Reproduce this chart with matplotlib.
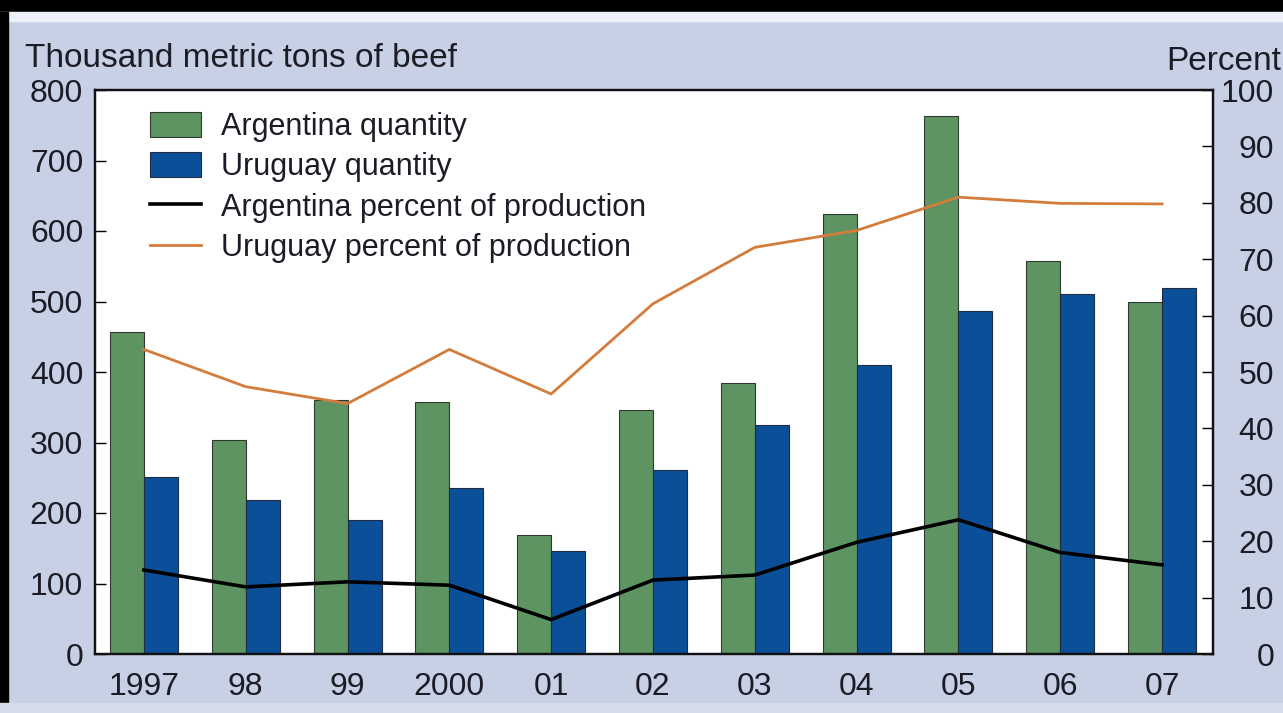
import numpy as np
import matplotlib
matplotlib.use('Agg')
import matplotlib.pyplot as plt
from matplotlib.patches import Rectangle

plt.rcParams['font.family'] = ['Liberation Sans', 'DejaVu Sans']

# data
years = ['1997', '98', '99', '2000', '01', '02', '03', '04', '05', '06', '07']
argentina_qty = [457, 304, 360, 358, 169, 346, 385, 624, 763, 557, 500]
uruguay_qty = [251, 218, 190, 236, 146, 261, 325, 410, 487, 510, 519]
argentina_pct = [14.9, 11.9, 12.8, 12.2, 6.1, 13.1, 14.0, 19.8, 23.8, 18.0, 15.8]
uruguay_pct = [54.0, 47.4, 44.4, 54.0, 46.1, 62.1, 72.1, 75.1, 81.0, 79.9, 79.8]

green = '#5e9462'
blue = '#0b4f98'
orange = '#d47c3c'
panel = '#c7d0e5'
text_col = '#1c1c26'

W, H = 1283, 713
fig = plt.figure(figsize=(W / 100, H / 100), dpi=100)
fig.patch.set_facecolor(panel)

# frame bits around the panel
fig.add_artist(Rectangle((0, 1 - 12 / H), 1, 12 / H, transform=fig.transFigure,
                         color='black', zorder=0))
fig.add_artist(Rectangle((0, 1 - 21 / H), 1, 9 / H, transform=fig.transFigure,
                         color='#eef1f7', zorder=0))
fig.add_artist(Rectangle((0, 0), 8 / W, 1 - 12 / H, transform=fig.transFigure,
                         color='black', zorder=0))
fig.add_artist(Rectangle((0, 0), 1, 10 / H, transform=fig.transFigure,
                         color='#d5dbeb', zorder=0))

ax = fig.add_axes([95 / W, 59 / H, 1118 / W, 564 / H])
ax.set_facecolor('white')

x = np.arange(len(years))
w = 0.334
b1 = ax.bar(x - w / 2, argentina_qty, w, color=green, edgecolor='#2e3a30',
            linewidth=0.8, label='Argentina quantity')
b2 = ax.bar(x + w / 2, uruguay_qty, w, color=blue, edgecolor='#1f2b40',
            linewidth=0.8, label='Uruguay quantity')
ax.set_xlim(-0.48, 10.5)
ax.set_ylim(0, 800)
ax.set_yticks(range(0, 801, 100))
ax.set_xticks(x)
ax.set_xticklabels(years)
ax.tick_params(axis='x', length=0, pad=13, labelsize=23, labelcolor=text_col)
ax.tick_params(axis='y', direction='in', length=8, width=1, pad=8.5,
               labelsize=23, labelcolor=text_col)

ax2 = ax.twinx()
l1, = ax2.plot(x, argentina_pct, color='black', linewidth=2.6,
               label='Argentina percent of production')
l2, = ax2.plot(x, uruguay_pct, color=orange, linewidth=2.0,
               label='Uruguay percent of production')
ax2.set_ylim(0, 100)
ax2.set_yticks(range(0, 101, 10))
ax2.tick_params(axis='y', direction='in', length=8, width=1, pad=44,
                labelsize=23, labelcolor=text_col)
for lab in ax2.get_yticklabels():
    lab.set_horizontalalignment('right')

for a in (ax, ax2):
    for s in a.spines.values():
        s.set_linewidth(1.6)
        s.set_color('#111111')

leg = ax2.legend(handles=[b1, b2, l1, l2], loc='upper left',
                 bbox_to_anchor=(0.049, 0.961), frameon=False, fontsize=22,
                 borderpad=0, borderaxespad=0, handlelength=1.67,
                 handleheight=0.88, handletextpad=0.65, labelspacing=0.34)
for t in leg.get_texts():
    t.set_color(text_col)

fig.text(25 / W, 1 - 67 / H, 'Thousand metric tons of beef', fontsize=24,
         ha='left', va='baseline', color=text_col)
fig.text(1166 / W, 1 - 70 / H, 'Percent', fontsize=24, ha='left',
         va='baseline', color=text_col)

fig.savefig('out.png', dpi=100, facecolor=fig.get_facecolor())
